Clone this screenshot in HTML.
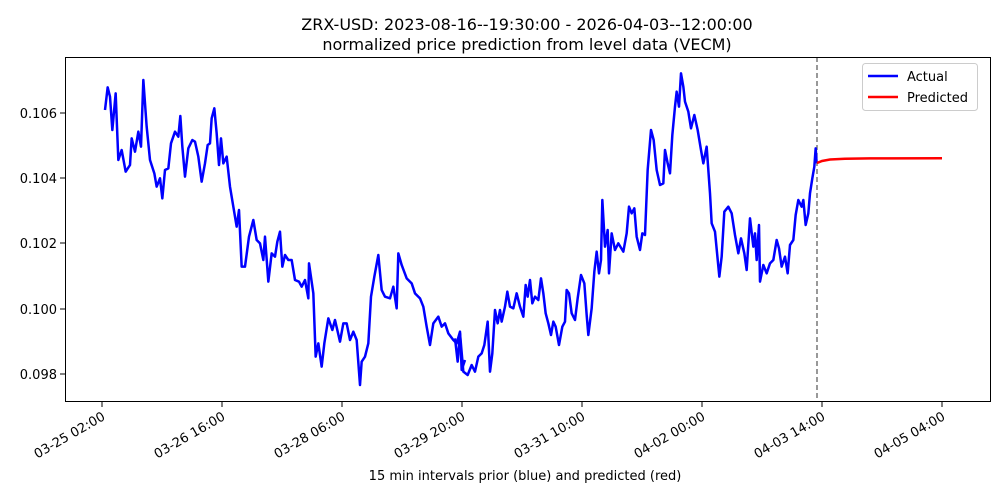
<!DOCTYPE html>
<html><head><meta charset="utf-8"><style>body{margin:0;background:#fff}svg{display:block;font-family:"DejaVu Sans","Liberation Sans",sans-serif}</style></head><body>
<svg width="1000" height="500" xmlns="http://www.w3.org/2000/svg">
<rect width="1000" height="500" fill="#fff"/>
<text x="527" y="30" font-size="16" text-anchor="middle">ZRX-USD: 2023-08-16--19:30:00 - 2026-04-03--12:00:00</text>
<text x="527" y="50" font-size="16" text-anchor="middle">normalized price prediction from level data (VECM)</text>
<line x1="817" y1="57" x2="817" y2="401" stroke="#555" stroke-width="1.2" stroke-dasharray="5,3"/>
<g fill="none" stroke="#0000ff" stroke-width="7.5" stroke-linejoin="round">
<polyline transform="translate(95,60) scale(0.33333)" points="30,150 38,82 45,110 52,210 62,100 70,300 80,270 92,335 105,315 110,235 120,275 130,215 138,260 145,60 155,200 165,300 178,340 185,380 195,355 202,415 210,330 220,325 228,250 240,215 250,230 256,168 262,260 270,350 280,265 292,240 300,245 310,290 320,365 330,310 338,255 345,250 350,175 358,145 365,220 372,315 378,235 385,310 395,290 405,380 415,440 425,500 432,450 440,620 450,620 462,530 475,480 485,540 495,550 505,600 510,530 520,665 530,580 540,590 547,545 555,515 562,620 570,585 580,600 590,600 600,660 612,665 620,680 630,660 640,715 642,610 655,700 662,890 670,850 680,920 688,850 700,775 712,810 720,780 735,845 745,790 755,790 765,840 775,815 785,840 795,975 800,905 810,890 820,850 828,710 838,650 850,585 860,690 870,710 885,715 895,680 905,745 910,580 920,615 935,655 950,670 960,700 975,715 985,740 995,800 1005,855 1015,790 1030,770 1040,800 1050,790 1060,820 1075,840 1085,850 1095,815 1100,930 1110,900"/>
<polyline transform="translate(455,60) scale(0.33333)" points="0,835 8,905 15,820 25,935 38,945 50,915 60,935 70,890 80,880 88,855 98,785 105,935 112,880 120,750 128,790 135,750 140,785 150,740 157,695 165,740 175,745 185,700 195,740 205,770 212,675 218,710 225,660 232,730 240,710 250,720 258,655 265,700 272,760 280,790 288,825 295,785 302,800 312,855 322,800 330,785 335,690 342,700 350,760 360,780 368,715 378,645 388,670 395,765 400,825 410,745 418,635 425,575 432,640 438,600 442,420 450,560 458,510 462,640 470,520 480,570 490,550 505,575 515,520 522,440 530,460 538,445 545,530 555,570 562,520 570,525 578,330 588,210 596,240 605,330 615,375 625,370 630,270 638,310 645,340 652,225 660,140 665,95 672,140 678,40 685,80 690,125 700,155 708,205 718,165 728,210 738,270 745,310 755,260 765,400 770,490 780,515 793,650 800,590 808,455 820,440 830,460 840,525 850,580 858,535 868,580 875,630 885,475 895,560 900,520 905,600 912,495 915,665 925,615 935,640 945,610 955,600 965,540 972,565 980,620 990,590 998,640 1005,555 1015,540 1022,465 1030,420 1040,440 1045,420 1052,495 1060,460 1065,400 1072,355 1078,320 1082,265 1085,310"/>
</g>
<polyline fill="none" stroke="#ff0000" stroke-width="2.5" points="817,163 822,161 830,159.5 845,158.8 870,158.4 942,158.3"/>
<rect x="65.5" y="57.5" width="925" height="344" fill="none" stroke="#000" stroke-width="1"/>
<g stroke="#000" stroke-width="1">
<line x1="60" y1="113" x2="65" y2="113"/><line x1="60" y1="178" x2="65" y2="178"/><line x1="60" y1="243" x2="65" y2="243"/><line x1="60" y1="309" x2="65" y2="309"/><line x1="60" y1="374" x2="65" y2="374"/>
<line x1="102" y1="402" x2="102" y2="407"/><line x1="222" y1="402" x2="222" y2="407"/><line x1="342" y1="402" x2="342" y2="407"/><line x1="462" y1="402" x2="462" y2="407"/><line x1="582" y1="402" x2="582" y2="407"/><line x1="702" y1="402" x2="702" y2="407"/><line x1="822" y1="402" x2="822" y2="407"/><line x1="942" y1="402" x2="942" y2="407"/>
</g>
<g font-size="13" text-anchor="end">
<text x="57" y="118">0.106</text><text x="57" y="183">0.104</text><text x="57" y="248">0.102</text><text x="57" y="314">0.100</text><text x="57" y="379">0.098</text>
<text transform="translate(106,419) rotate(-30)">03-25 02:00</text>
<text transform="translate(226,419) rotate(-30)">03-26 16:00</text>
<text transform="translate(346,419) rotate(-30)">03-28 06:00</text>
<text transform="translate(466,419) rotate(-30)">03-29 20:00</text>
<text transform="translate(586,419) rotate(-30)">03-31 10:00</text>
<text transform="translate(706,419) rotate(-30)">04-02 00:00</text>
<text transform="translate(826,419) rotate(-30)">04-03 14:00</text>
<text transform="translate(946,419) rotate(-30)">04-05 04:00</text>
</g>
<text x="525" y="480" font-size="13" text-anchor="middle">15 min intervals prior (blue) and predicted (red)</text>
<rect x="862.5" y="63.5" width="115" height="47" rx="3" fill="#fff" stroke="#ccc"/>
<line x1="868" y1="76" x2="898" y2="76" stroke="#0000ff" stroke-width="2.5"/>
<line x1="868" y1="97" x2="898" y2="97" stroke="#ff0000" stroke-width="2.5"/>
<text x="907" y="81" font-size="13">Actual</text>
<text x="907" y="102" font-size="13">Predicted</text>
</svg>
</body></html>
